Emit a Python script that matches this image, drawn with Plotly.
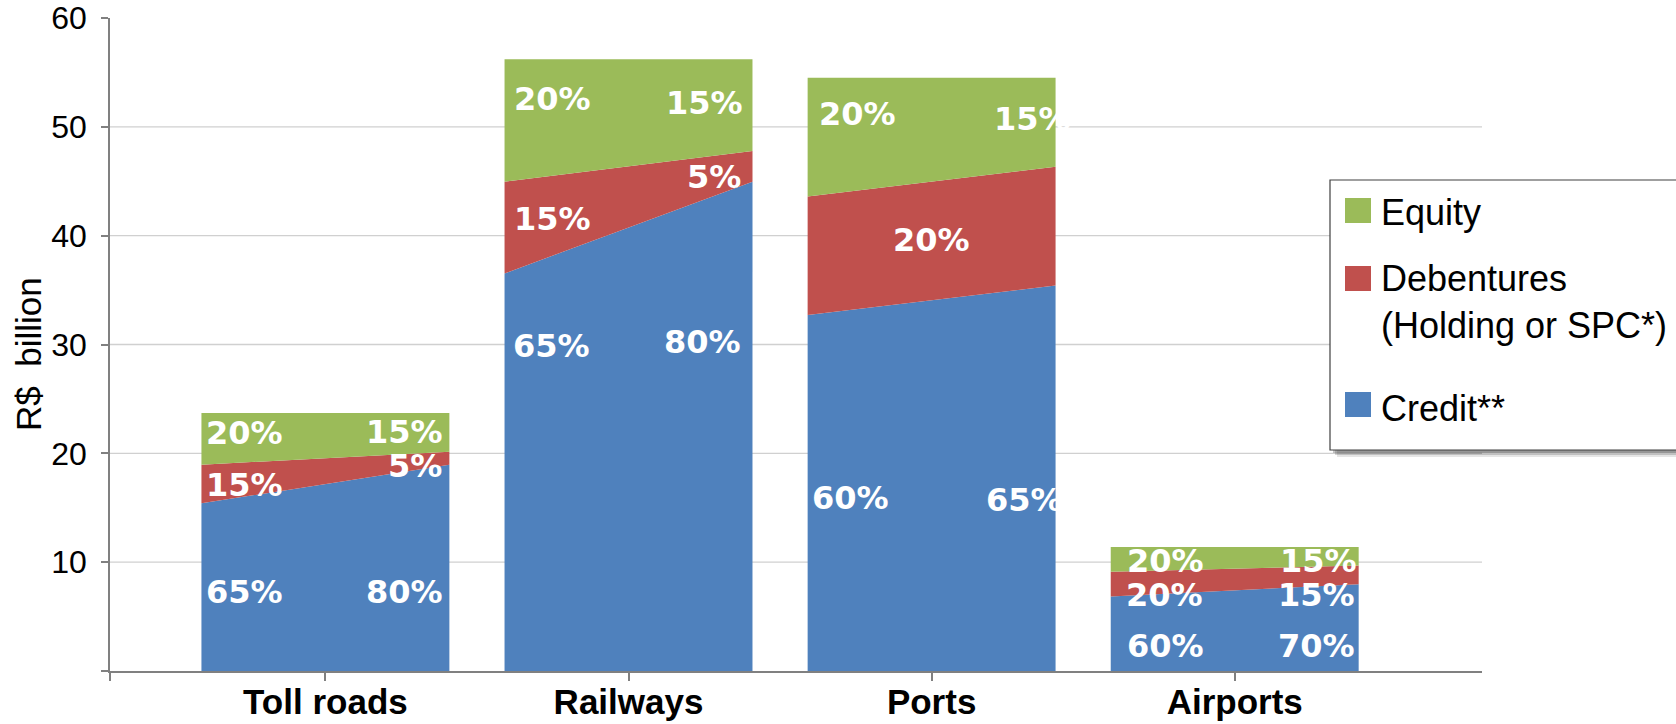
import plotly.graph_objects as go

# ---- data -------------------------------------------------------------
categories = ["Toll roads", "Railways", "Ports", "Airports"]
totals = [23.7, 56.2, 54.5, 11.4]          # R$ billion per sector

# financing shares (%) at the start (left edge) and end (right edge) of each bar
credit_left = [65, 65, 60, 60]
credit_right = [80, 80, 65, 70]
debentures_left = [15, 15, 20, 20]
debentures_right = [5, 5, 20, 15]
equity_left = [20, 20, 20, 20]
equity_right = [15, 15, 15, 15]

y_ticks = [0, 10, 20, 30, 40, 50, 60]

# ---- style ------------------------------------------------------------
BLUE, RED, GREEN = "#4F81BD", "#C0504D", "#9BBB59"
AXIS_GREY = "#808080"
GRID_GREY = "#D0D0D0"
SANS = "Liberation Sans, Arial, sans-serif"
HEAVY = "DejaVu Sans, Arial Black, sans-serif"

series = {
    "credit": ("Credit**", credit_left, credit_right, BLUE),
    "deb": ("Debentures (Holding or SPC*)", debentures_left, debentures_right, RED),
    "eq": ("Equity", equity_left, equity_right, GREEN),
}
stack_order = ["credit", "deb", "eq"]

HALF = 0.409                      # half bar width in category units
X_RANGE = [-0.7107, 3.8159]

# plot-area box in pixels, used to place the hand-drawn legend
W, H = 1676, 724
PL, PR, PT, PB = 110, 1482, 18, 671


def px_x(px):
    return (px - PL) / (PR - PL)


def px_y(py):
    return (PB - py) / (PB - PT)


fig = go.Figure()

# each sector is a bar whose split shifts linearly from left to right edge
for i, cat in enumerate(categories):
    for key in stack_order:
        name, left, right, color = series[key]
        fig.add_trace(go.Scatter(
            x=[i - HALF, i + HALF],
            y=[totals[i] * left[i] / 100, totals[i] * right[i] / 100],
            mode="lines",
            line=dict(width=0, color=color),
            fillcolor=color,
            stackgroup=f"sector{i}",
            name=name,
            showlegend=False,
            hoverinfo="skip",
        ))

# percentage labels: (sector, side, series, y in R$ bn, pixel nudge)
label_spots = [
    (0, "L", "eq", 21.9, 4), (0, "R", "eq", 22.0, -5),
    (0, "L", "deb", 17.1, 4), (0, "R", "deb", 18.85, -6),
    (0, "L", "credit", 7.3, 4), (0, "R", "credit", 7.3, -5),
    (1, "L", "eq", 52.55, 8), (1, "R", "eq", 52.2, -8),
    (1, "L", "deb", 41.5, 8), (1, "R", "deb", 45.35, -10),
    (1, "L", "credit", 29.9, 7), (1, "R", "credit", 30.2, -10),
    (2, "L", "eq", 51.2, 10), (2, "R", "eq", 50.7, 16),
    (2, "C", "deb", 39.6, 0),
    (2, "L", "credit", 15.9, 3), (2, "R", "credit", 15.7, 8),
    (3, "L", "eq", 10.1, 15), (3, "R", "eq", 10.1, -1),
    (3, "L", "deb", 6.95, 14), (3, "R", "deb", 6.95, -3),
    (3, "L", "credit", 2.3, 15), (3, "R", "credit", 2.3, -3),
]
for i, side, key, yv, nudge in label_spots:
    _, left, right, _ = series[key]
    pct = left[i] if side in ("L", "C") else right[i]
    if side == "L":
        x, anchor = i - HALF, "left"
    elif side == "R":
        x, anchor = i + HALF, "right"
    else:
        x, anchor = i, "center"
    fig.add_annotation(
        x=x, y=yv, xref="x", yref="y", text=f"{pct}%",
        xanchor=anchor, yanchor="middle", xshift=nudge, showarrow=False,
        borderpad=0,
        font=dict(family=HEAVY, size=32, color="white", weight="bold"),
    )

# horizontal gridlines (none at the top of the scale)
for v in y_ticks[1:-1]:
    fig.add_shape(type="line", xref="paper", yref="y", x0=0, x1=1, y0=v, y1=v,
                  line=dict(color=GRID_GREY, width=1.3), layer="below")

# y-axis title
fig.add_annotation(
    x=px_x(28), y=px_y(354), xref="paper", yref="paper",
    text="R$\u00a0 billion", textangle=-90, showarrow=False,
    xanchor="center", yanchor="middle",
    font=dict(family=SANS, size=35, color="black"),
)

# legend box with a soft drop shadow
box = dict(x0=1330, x1=1720, y0=180, y1=450)
for off, alpha in [(7, 0.10), (5, 0.16), (3, 0.22)]:
    fig.add_shape(type="rect", xref="paper", yref="paper",
                  x0=px_x(box["x0"] + off), x1=px_x(box["x1"] + off),
                  y0=px_y(box["y1"] + off), y1=px_y(box["y0"] + off),
                  line=dict(width=0), fillcolor=f"rgba(0,0,0,{alpha})")
fig.add_shape(type="rect", xref="paper", yref="paper",
              x0=px_x(box["x0"]), x1=px_x(box["x1"]),
              y0=px_y(box["y1"]), y1=px_y(box["y0"]),
              line=dict(color="#404040", width=1.2), fillcolor="white")

legend_rows = [
    ("eq", "Equity", 198, 212),
    ("deb", "Debentures<br>(Holding or SPC*)", 266, 280 + 22),
    ("credit", "Credit**", 392, 408),
]
for key, text, sq_top, text_mid in legend_rows:
    color = series[key][3]
    fig.add_shape(type="rect", xref="paper", yref="paper",
                  x0=px_x(1345), x1=px_x(1371),
                  y0=px_y(sq_top + 25), y1=px_y(sq_top),
                  line=dict(width=0), fillcolor=color)
    fig.add_annotation(
        x=px_x(1379), y=px_y(text_mid), xref="paper", yref="paper",
        text=text, showarrow=False, xanchor="left", yanchor="middle", align="left",
        font=dict(family=SANS, size=36, color="black"),
    )

fig.update_layout(
    width=W, height=H,
    margin=dict(l=PL, r=W - PR, t=PT, b=H - PB, pad=0, autoexpand=False),
    paper_bgcolor="white", plot_bgcolor="white",
    showlegend=False,
    xaxis=dict(
        range=X_RANGE,
        tickvals=[X_RANGE[0]] + list(range(len(categories))),
        ticktext=[""] + categories,
        ticks="outside", ticklen=8, tickcolor=AXIS_GREY, tickwidth=1.5,
        showline=True, linecolor=AXIS_GREY, linewidth=1.5,
        showgrid=False, zeroline=False, automargin=False,
        ticklabelstandoff=-9,
        tickfont=dict(family=SANS, size=35, color="black", weight="bold"),
    ),
    yaxis=dict(
        range=[0, 60],
        tickvals=y_ticks,
        ticktext=[""] + [str(v) for v in y_ticks[1:]],
        ticks="outside", ticklen=7, tickcolor=AXIS_GREY, tickwidth=1.5,
        showline=True, linecolor=AXIS_GREY, linewidth=1.5,
        showgrid=False, zeroline=False, automargin=False,
        ticklabelstandoff=8,
        tickfont=dict(family=SANS, size=32, color="black"),
    ),
)

fig.write_html("out.html")
